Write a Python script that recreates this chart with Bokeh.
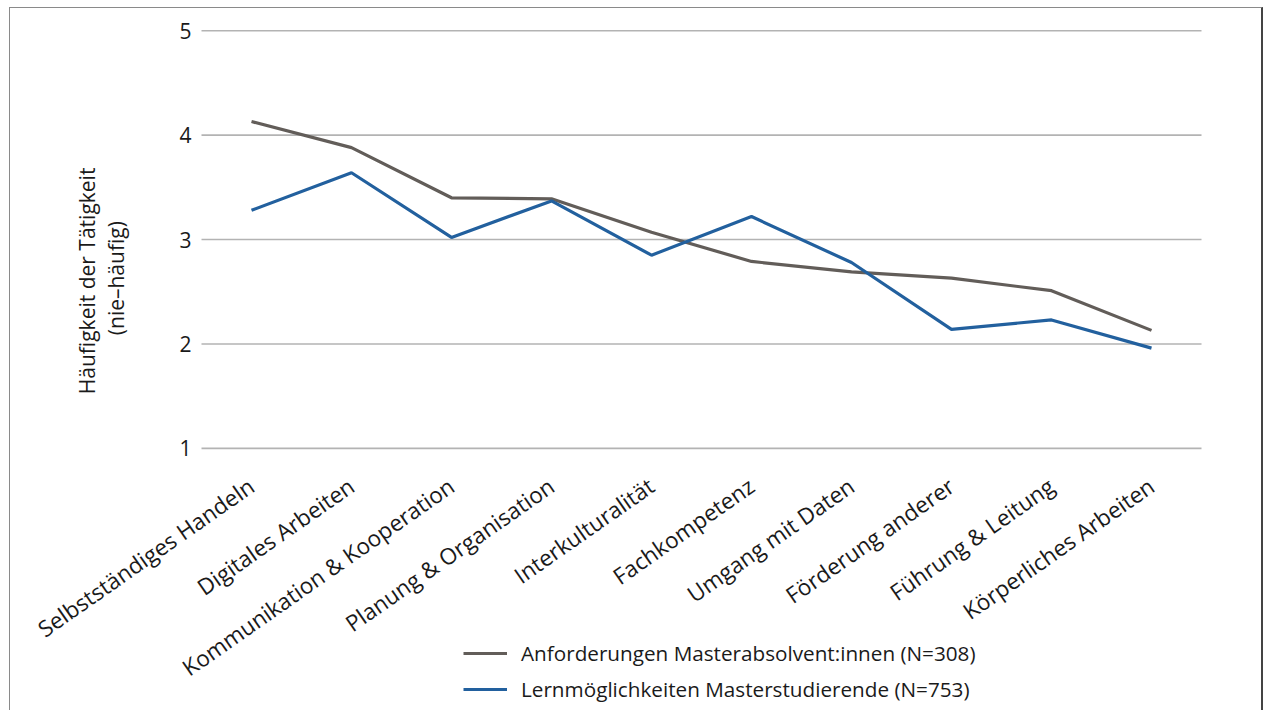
import math
from bokeh.plotting import figure
from bokeh.models import Range1d, FixedTicker, Legend, LegendItem, ColumnDataSource
from bokeh.core.properties import value
from bokeh.embed import file_html
from bokeh.resources import INLINE

categories = ["Selbstständiges Handeln", "Digitales Arbeiten", "Kommunikation & Kooperation",
              "Planung & Organisation", "Interkulturalität", "Fachkompetenz", "Umgang mit Daten",
              "Förderung anderer", "Führung & Leitung", "Körperliches Arbeiten"]
anforderungen = [4.13, 3.88, 3.40, 3.39, 3.07, 2.79, 2.69, 2.63, 2.51, 2.13]
lernmoeglichkeiten = [3.28, 3.64, 3.02, 3.37, 2.85, 3.22, 2.78, 2.14, 2.23, 1.96]
y_ticks = [1, 2, 3, 4, 5]
series_names = ["Anforderungen Masterabsolvent:innen (N=308)",
                "Lernmöglichkeiten Masterstudierende (N=753)"]
y_title_lines = ["Häufigkeit der  Tätigkeit", "(nie–häufig)"]

FONT = "Open Sans"
TXT = "#1a1a1a"

# category slots sit at x = 0 .. n-1 on a numeric scale (100 px per slot)
n = len(categories)
xpos = list(range(n))
BORDER_L = 24
X_START = -2.17
X_END = X_START + (1254 - BORDER_L - 2) / 100.0
Y_END = 5.213
Y_START = Y_END - 703 / 104.4

p = figure(x_range=Range1d(X_START, X_END), y_range=Range1d(Y_START, Y_END), width=1254, height=703,
           output_backend="svg", toolbar_location=None,
           min_border_left=BORDER_L, min_border_right=2, min_border_top=0, min_border_bottom=0)
p.styles = {"border-left": "1px solid #8a8a8a", "border-top": "1px solid #8a8a8a",
            "border-right": "2px solid #444444", "margin-left": "9px", "margin-top": "7px"}
p.outline_line_color = None
p.xgrid.grid_line_color = None
p.ygrid.grid_line_color = None
p.xaxis.visible = False

ax = p.yaxis[0]
ax.ticker = FixedTicker(ticks=y_ticks)
ax.fixed_location = -0.5
ax.axis_line_color = None
ax.major_tick_line_color = None
ax.minor_tick_line_color = None
ax.major_tick_out = 0
ax.major_tick_in = 0
ax.minor_tick_out = 0
ax.minor_tick_in = 0
ax.major_label_text_font = FONT
ax.major_label_text_color = TXT
ax.major_label_text_font_size = "21px"
ax.major_label_standoff = 10

# horizontal grid lines across the category band
p.segment(x0=[-0.5] * len(y_ticks), x1=[n - 0.5] * len(y_ticks), y0=y_ticks, y1=y_ticks,
          line_color="#b3b3b3", line_width=1.6)

# y-axis title (two lines, rotated)
p.text(x=[-1.65, -1.36], y=[2.63, 2.63], text=y_title_lines, angle=math.pi / 2,
       text_align="center", text_baseline="middle", text_font=value(FONT),
       text_font_size="21px", text_color=TXT)

# category labels, rotated
label_y = 0.665
src = ColumnDataSource(dict(x=xpos, y=[label_y] * n, t=categories))
p.text(x="x", y="y", text="t", source=src, angle=35 * math.pi / 180,
       text_align="right", text_baseline="middle", text_font=value(FONT),
       text_font_size="22.5px", text_color=TXT)

r1 = p.line(xpos, anforderungen, line_color="#625d59", line_width=3.2)
r2 = p.line(xpos, lernmoeglichkeiten, line_color="#22609e", line_width=3.2)

legend = Legend(items=[LegendItem(label=series_names[0], renderers=[r1]),
                       LegendItem(label=series_names[1], renderers=[r2])],
                location=(int(round((2.12 - X_START) * 100)), 7), orientation="vertical",
                label_text_font=FONT, label_text_font_size="20.7px", label_text_color=TXT,
                glyph_width=44, glyph_height=30, label_height=30, label_standoff=14,
                spacing=6, padding=0, margin=0, border_line_color=None,
                background_fill_alpha=0)
p.add_layout(legend, "center")

open("out.html", "w").write(file_html(p, INLINE))
